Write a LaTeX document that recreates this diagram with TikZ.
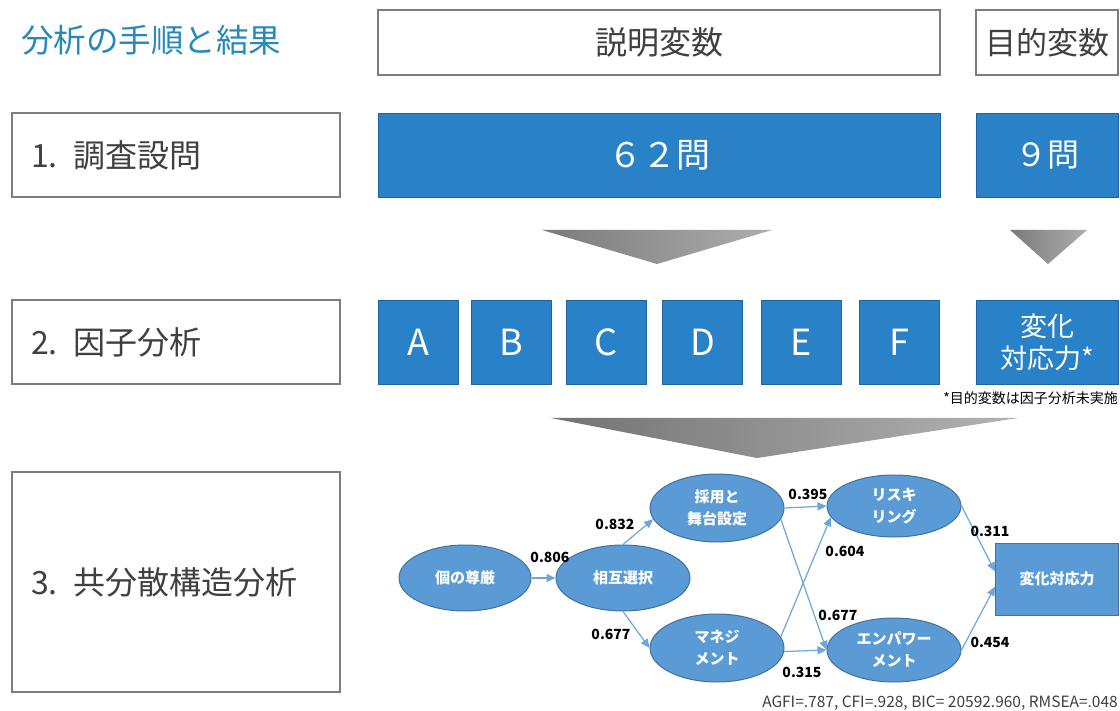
\documentclass[tikz,border=0pt]{standalone}
\usepackage{fontspec}
\setmainfont{Noto Sans CJK JP}
\usetikzlibrary{shapes.geometric,arrows.meta}
\definecolor{titleblue}{RGB}{38,137,186}
\definecolor{boxblue}{RGB}{41,129,199}
\definecolor{boxedge}{RGB}{30,100,160}
\definecolor{ellfill}{RGB}{91,155,213}
\definecolor{elledge}{RGB}{65,113,156}
\definecolor{arrowblue}{RGB}{110,165,218}
\definecolor{txtgray}{RGB}{64,64,64}
\definecolor{framegray}{RGB}{125,125,125}
\newcommand\myfs[2]{\fontsize{#1}{#2}\selectfont}
\begin{document}
\begin{tikzpicture}[x=1pt,y=-1pt,
  wframe/.style={draw=framegray, line width=1.2pt, fill=white, text=txtgray, inner sep=0pt},
  bbox/.style={draw=boxedge, line width=0.8pt, fill=boxblue, text=white, inner sep=0pt},
  stepbox/.style={wframe, minimum width=328, minimum height=84, text width=290, align=left, inner xsep=19, font=\myfs{32}{38}},
  letterbox/.style={bbox, minimum width=80, minimum height=84, font=\myfs{36}{40}},
  ell/.style={ellipse, draw=elledge, line width=1pt, fill=ellfill, text=white, inner sep=0pt, minimum width=134, minimum height=66, align=center, font=\bfseries\myfs{15}{22}},
  conn/.style={draw=arrowblue, line width=1.2pt, -{Triangle[length=9,width=8]}},
  coef/.style={font=\bfseries\myfs{14}{16}, text=black, inner sep=0pt}
]
\useasboundingbox (0,0) rectangle (1120,711);
\fill[white] (0,0) rectangle (1120,711);

% title
\node[anchor=west, text=titleblue, font=\myfs{32.5}{36}, inner sep=0pt] (title) at (21,40) {分析の手順と結果};

% header boxes
\node[wframe, minimum width=562, minimum height=65, font=\myfs{32}{38}] (setsumei) at (659,42.5) {説明変数};
\node[wframe, minimum width=142, minimum height=65, font=\myfs{31}{38}] (mokuteki) at (1047,42.5) {目的変数};

% row 1
\node[stepbox] (s1) at (176,155) {1. 調査設問};
\node[bbox, minimum width=562, minimum height=84, font=\myfs{34}{40}] (q62) at (659,155) {６２問};
\node[bbox, minimum width=142, minimum height=84, font=\myfs{32}{40}] (q9) at (1047,155) {９問};

% triangles
\shade[left color=black!52, right color=black!32] (542,230) -- (772,230) -- (657,264) -- cycle;
\shade[left color=black!52, right color=black!32] (1010,230) -- (1087,230) -- (1048,264) -- cycle;

% row 2
\node[stepbox] (s2) at (176,342) {2. 因子分析};
\node[letterbox] (fA) at (418,342) {A};
\node[letterbox] (fB) at (511.5,342) {B};
\node[letterbox] (fC) at (606,342) {C};
\node[letterbox] (fD) at (702.5,342) {D};
\node[letterbox] (fE) at (801.5,342) {E};
\node[letterbox] (fF) at (899,342) {F};
\node[bbox, minimum width=142, minimum height=84, align=center, font=\myfs{27}{32}] (henka0) at (1047,342) {変化\\対応力*};
\node[anchor=east, font=\myfs{14}{16}, text=black, inner sep=0pt] (note) at (1118,398) {*目的変数は因子分析未実施};

\shade[left color=black!55, right color=black!30] (551,418) -- (1018,418) -- (757,458) -- cycle;

% row 3
\node[stepbox, minimum height=220] (s3) at (176,582) {3. 共分散構造分析};

% SEM
\node[ell, minimum width=132] (kojin) at (465,578) {個の尊厳};
\node[ell] (sogo) at (623,578) {相互選択};
\node[ell, minimum height=68] (saiyo) at (717,508) {採用と\\舞台設定};
\node[ell, minimum height=68] (manage) at (717,648) {マネジ\\メント};
\node[ell, minimum height=62] (risk) at (894,506) {リスキ\\リング};
\node[ell, minimum height=64] (empower) at (894,650) {エンパワー\\メント};
\node[draw=elledge, line width=1pt, fill=ellfill, text=white, minimum width=123, minimum height=72, inner sep=0pt, font=\bfseries\myfs{15}{18}] (henka) at (1057,579) {変化対応力};

\draw[conn] (kojin.east) -- (sogo.west);
\draw[conn] (sogo.north) -- (saiyo.190);
\draw[conn] (sogo.south) -- (manage.west);
\draw[conn] (saiyo.east) -- (risk.west);
\draw[conn] (saiyo.-10) -- (empower.west);
\draw[conn] (manage.10) -- (risk.190);
\draw[conn] (manage.-3) -- (empower.west);
\draw[conn] (risk.east) -- (henka.173);
\draw[conn] (empower.east) -- (henka.187);

\node[coef] (c1) at (550,557) {0.806};
\node[coef] (c2) at (615,524) {0.832};
\node[coef] (c3) at (611,634) {0.677};
\node[coef] (c4) at (808,494) {0.395};
\node[coef] (c5) at (845,551) {0.604};
\node[coef] (c6) at (838,615) {0.677};
\node[coef] (c7) at (802,672) {0.315};
\node[coef] (c8) at (990,531) {0.311};
\node[coef] (c9) at (990,642) {0.454};

\node[anchor=east, font=\myfs{15.5}{18}, text=txtgray, inner sep=0pt] (fit) at (1118,703) {AGFI=.787, CFI=.928, BIC= 20592.960, RMSEA=.048};
\end{tikzpicture}
\end{document}
